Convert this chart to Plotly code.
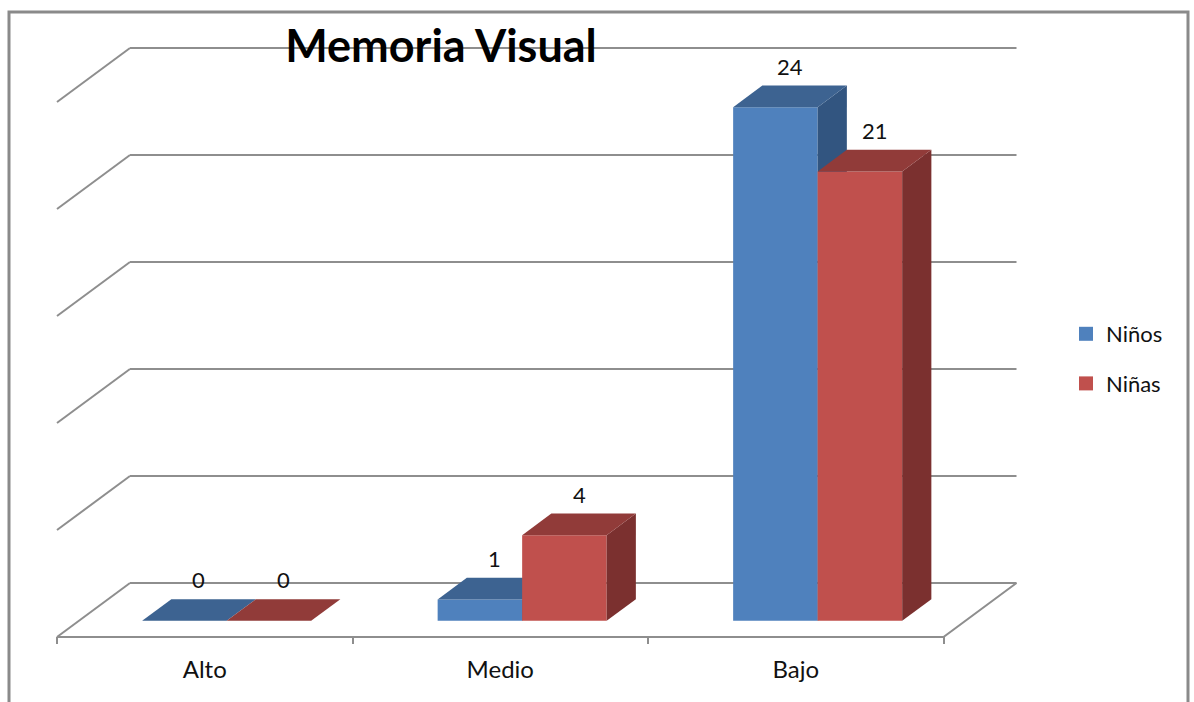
import plotly.graph_objects as go

# ---------------- data ----------------
categories = ["Alto", "Medio", "Bajo"]
ninos = [0, 1, 24]
ninas = [0, 4, 21]
series_names = ["Niños", "Niñas"]
grid_values = [0, 5, 10, 15, 20, 25]

# ---------------- styling / geometry ----------------
FRONT = ["#4F81BD", "#C0504D"]
TOP = ["#3D6391", "#913B39"]
SIDE = ["#325580", "#7B302F"]
GRID = "#8E8E8E"
FONT = "Lato"

W, H = 1194, 702
ML, MR, MT, MB = 50, 169, 40, 58
X0_PX, SX = 57, 295.5      # px of category axis start, px per category
Y0_PX, SY = 637, 21.4      # px of floor front edge, px per value unit
DX = 73 / SX               # depth offset (x) in category units
DY = 54 / SY               # depth offset (y) in value units
D0, D1 = 0.3, 0.7          # bar depth slot
GAP = 0.214                # gap on each side of group, in category units
BW = (1 - 2 * GAP) / 2     # bar width

xr = [(ML - X0_PX) / SX, (W - MR - X0_PX) / SX]
yr = [(Y0_PX - (H - MB)) / SY, (Y0_PX - MT) / SY]
pw, ph = W - ML - MR, H - MT - MB


def px2paper_x(px):
    return (px - ML) / pw


def py2paper_y(py):
    return ((H - MB) - py) / ph


def P(x, v, d):
    return x + d * DX, v + d * DY


fig = go.Figure()

# ---------------- walls / gridlines ----------------
gx, gy = [], []
for v in grid_values:
    # back wall line
    for (x, d) in [(0, 1), (len(categories), 1)]:
        a, b = P(x, v, d)
        gx.append(a); gy.append(b)
    gx.append(None); gy.append(None)
    # side wall diagonal
    for d in [0, 1]:
        a, b = P(0, v, d)
        gx.append(a); gy.append(b)
    gx.append(None); gy.append(None)
# floor front edge and right diagonal
for (x, d) in [(0, 0), (len(categories), 0), (len(categories), 1)]:
    a, b = P(x, 0, d)
    gx.append(a); gy.append(b)
fig.add_trace(go.Scatter(x=gx, y=gy, mode="lines", line=dict(color=GRID, width=2),
                         hoverinfo="skip", showlegend=False))

# ---------------- 3D bars ----------------
def face(pts, color):
    xs = [p[0] for p in pts] + [pts[0][0]]
    ys = [p[1] for p in pts] + [pts[0][1]]
    fig.add_trace(go.Scatter(x=xs, y=ys, mode="lines", fill="toself", fillcolor=color,
                             line=dict(width=0, color=color), hoverinfo="skip",
                             showlegend=False))


annots = []
for ci, cat in enumerate(categories):
    for si, vals in enumerate([ninos, ninas]):
        v = vals[ci]
        x0 = ci + GAP + si * BW
        x1 = x0 + BW
        if v > 0:
            face([P(x0, 0, D0), P(x1, 0, D0), P(x1, v, D0), P(x0, v, D0)], FRONT[si])
            face([P(x1, 0, D0), P(x1, 0, D1), P(x1, v, D1), P(x1, v, D0)], SIDE[si])
        face([P(x0, v, D0), P(x1, v, D0), P(x1, v, D1), P(x0, v, D1)], TOP[si])
        lx, ly = P(x0 + BW / 2, v, 0.5)
        annots.append(dict(x=lx, y=v + D1 * DY + 0.9, xref="x", yref="y", text=str(v),
                           showarrow=False, yanchor="middle", xanchor="center",
                           font=dict(family=FONT, size=22, color="#111111")))

# ---------------- legend entries ----------------
for si, name in enumerate(series_names):
    fig.add_trace(go.Scatter(x=[None], y=[None], mode="markers", name=name,
                             legendgroup=name,
                             marker=dict(symbol="square", size=14, color=FRONT[si])))

fig.update_layout(
    width=W, height=H,
    margin=dict(l=ML, r=MR, t=MT, b=MB),
    paper_bgcolor="white", plot_bgcolor="white",
    font=dict(family=FONT, size=22, color="#111111"),
    title=dict(text="<b>Memoria Visual</b>", x=441 / W, xanchor="center",
               y=1 - 46 / H, yanchor="middle", xref="container", yref="container",
               font=dict(family=FONT, size=45, color="#000000")),
    xaxis=dict(range=xr, showgrid=False, zeroline=False, showline=False,
               tickvals=[i + 0.5 for i in range(len(categories))], ticktext=categories,
               ticks="", ticklabelstandoff=9,
               tickfont=dict(family=FONT, size=24, color="#111111"),
               minor=dict(tickvals=list(range(len(categories) + 1)), ticks="inside",
                          ticklen=7, tickwidth=2, tickcolor=GRID),
               fixedrange=True),
    yaxis=dict(range=yr, showgrid=False, zeroline=False, showline=False,
               showticklabels=False, ticks="", fixedrange=True),
    showlegend=True,
    legend=dict(x=px2paper_x(1066), xanchor="left", y=py2paper_y(359), yanchor="middle",
                traceorder="grouped", tracegroupgap=18, bgcolor="rgba(0,0,0,0)",
                font=dict(family=FONT, size=22, color="#111111")),
    annotations=annots,
    shapes=[dict(type="rect", xref="paper", yref="paper",
                 x0=px2paper_x(9), x1=px2paper_x(1188),
                 y0=py2paper_y(715), y1=py2paper_y(12),
                 line=dict(color="#8A8A8A", width=3), fillcolor="rgba(0,0,0,0)")],
)

fig.write_html("out.html")
